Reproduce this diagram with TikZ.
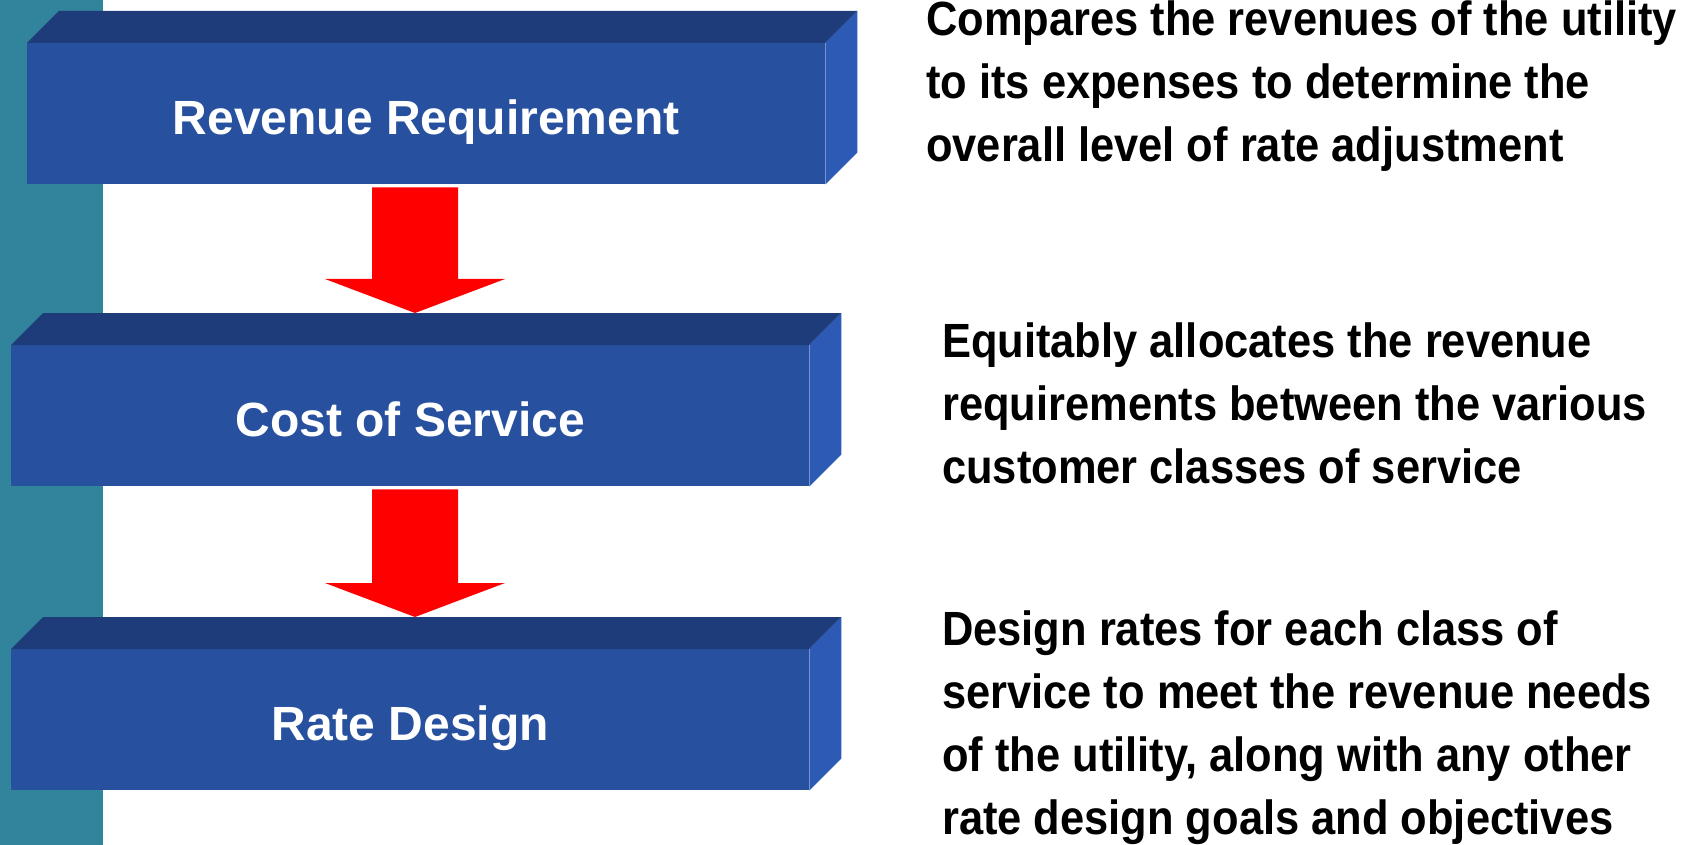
\documentclass[tikz,border=0pt]{standalone}
\usepackage{fontspec}
\setmainfont{Liberation Sans}
\newfontfamily\descfont{Liberation Sans}[FakeStretch=0.905]
\usetikzlibrary{calc}

\definecolor{tealbar}{RGB}{49,132,155}
\definecolor{facefront}{RGB}{39,80,158}
\definecolor{facetop}{RGB}{31,60,122}
\definecolor{faceside}{RGB}{44,90,180}
\definecolor{arrowred}{RGB}{255,0,0}

\tikzset{
  stage/.style={fill=facefront, inner sep=0pt, minimum width=798pt,
    minimum height=141pt, anchor=north west, text=white,
    font=\bfseries\fontsize{48}{58}\selectfont, text height=41pt, text depth=0pt},
  desc/.style={anchor=base west, inner sep=0pt,
    font=\descfont\bfseries\fontsize{48}{63}\selectfont},
  blockarrow/.style={to path={let \p1=(\tikztostart), \p2=(\tikztotarget) in
    (\x1-43pt,\y1) -- (\x1+43pt,\y1) -- (\x1+43pt,\y2+34pt) -- (\x1+90pt,\y2+34pt)
    -- (\x2,\y2) -- (\x1-90pt,\y2+34pt) -- (\x1-43pt,\y2+34pt) -- cycle}},
}

% top and right faces of a stage prism, 32pt deep
\newcommand\prismfaces[1]{%
  \fill[facetop] (#1.north west) -- ([shift={(32pt,32pt)}]#1.north west)
    -- ([shift={(32pt,32pt)}]#1.north east) -- (#1.north east) -- cycle;
  \fill[faceside] (#1.north east) -- ([shift={(32pt,32pt)}]#1.north east)
    -- ([shift={(32pt,32pt)}]#1.south east) -- (#1.south east) -- cycle;
}

\begin{document}
\begin{tikzpicture}[x=1pt,y=-1pt]
  \useasboundingbox (0,0) rectangle (1698,845);
  \fill[white] (0,0) rectangle (1698,845);
  \fill[tealbar] (0,0) rectangle (103,845);

  % the three stages
  \node[stage] (rr) at (27,43) {Revenue Requirement};
  \node[stage] (cs) at (11,345) {Cost of Service};
  \node[stage] (rd) at (11,649) {Rate Design};
  \prismfaces{rr}
  \prismfaces{cs}
  \prismfaces{rd}

  % block arrows between the stages
  \coordinate (ax) at (415,0);
  \fill[arrowred] ($(rr.south -| ax)+(0,3)$) to[blockarrow] ($(cs.north -| ax)+(0,-32)$);
  \fill[arrowred] ($(cs.south -| ax)+(0,3)$) to[blockarrow] ($(rd.north -| ax)+(0,-32)$);

  % descriptions
  \node[desc] (d1) at (926,36) {\begin{tabular}[t]{@{}l@{}}Compares the revenues of the utility\\
    to its expenses to determine the\\ overall level of rate adjustment\end{tabular}};
  \node[desc] (d2) at (942,357) {\begin{tabular}[t]{@{}l@{}}Equitably allocates the revenue\\
    requirements between the various\\ customer classes of service\end{tabular}};
  \node[desc] (d3) at (942,645) {\begin{tabular}[t]{@{}l@{}}Design rates for each class of\\
    service to meet the revenue needs\\ of the utility, along with any other\\
    rate design goals and objectives\end{tabular}};
\end{tikzpicture}
\end{document}
